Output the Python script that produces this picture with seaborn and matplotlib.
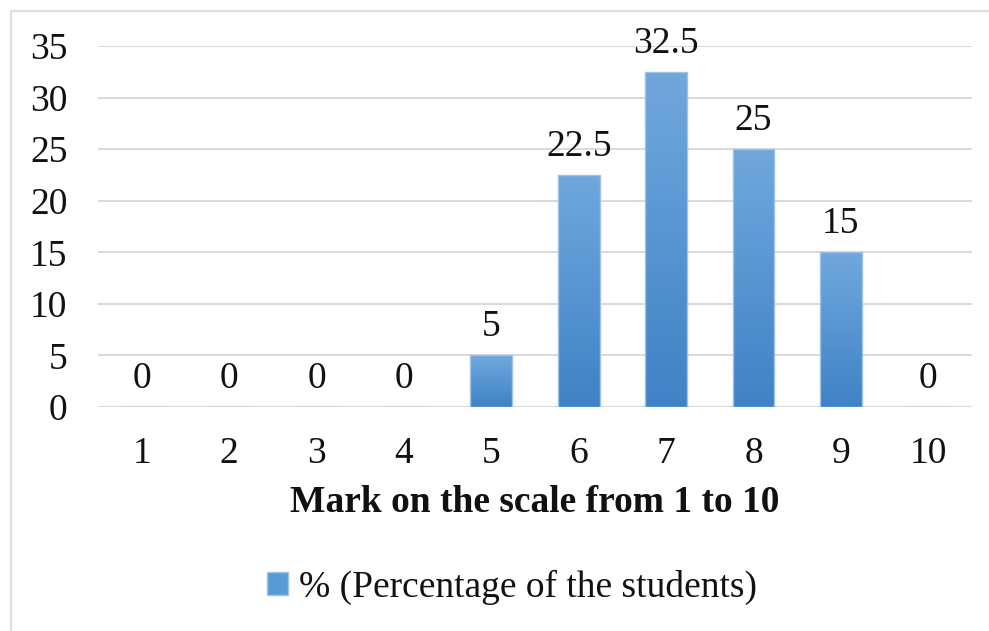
import numpy as np
import pandas as pd
import matplotlib
matplotlib.use("Agg")
import matplotlib.pyplot as plt
from matplotlib.colors import LinearSegmentedColormap
from matplotlib.patches import Patch, Rectangle
import seaborn as sns

# Data
marks = ["1", "2", "3", "4", "5", "6", "7", "8", "9", "10"]
percent = [0, 0, 0, 0, 5, 22.5, 32.5, 25, 15, 0]
value_labels = ["0", "0", "0", "0", "5", "22.5", "32.5", "25", "15", "0"]
series_name = "% (Percentage of the students)"

sns.set_theme(style="white")
plt.rcParams["font.family"] = ["Liberation Serif", "DejaVu Serif"]

df = pd.DataFrame({"mark": marks, "percent": percent})
FS = 27

fig = plt.figure(figsize=(9.89, 6.31), dpi=100)
ax = fig.add_axes([98 / 989, 1 - 407 / 631, (972 - 98) / 989, (407 - 46) / 631])

sns.barplot(data=df, x="mark", y="percent", ax=ax, width=0.48,
            color="#5B9BD5", edgecolor="#9DC3E6", linewidth=1, zorder=3)

# Vertical gradient fill on each bar
grad_cmap = LinearSegmentedColormap.from_list("bar", ["#3F82C6", "#70A8DD"])
grad = np.linspace(0, 1, 256).reshape(-1, 1)
for bar in ax.patches:
    h = bar.get_height()
    if h <= 0:
        continue
    x0 = bar.get_x()
    w = bar.get_width()
    im = ax.imshow(grad, extent=[x0, x0 + w, 0, h], origin="lower",
                   aspect="auto", cmap=grad_cmap, zorder=3.5)
    im.set_clip_path(bar)
    bar.set_facecolor("none")
    bar.set_zorder(4)

ax.bar_label(ax.containers[0], labels=value_labels, padding=8, fontsize=FS,
             color="#111111", zorder=5)

ax.set_xlim(-0.5, len(marks) - 0.5)
ax.set_ylim(0, 35)
ax.set_yticks(range(0, 36, 5))
ax.yaxis.grid(True, color="#D9D9D9", linewidth=1.4, zorder=0)
ax.set_axisbelow(True)
for side in ["top", "right", "left", "bottom"]:
    ax.spines[side].set_visible(False)
ax.axhline(0, color="#D9D9D9", linewidth=1.6, zorder=1)

ax.tick_params(axis="both", length=0, labelsize=FS, colors="#111111")
ax.tick_params(axis="x", pad=21)
ax.tick_params(axis="y", pad=22)
ax.set_xlabel("")
ax.set_ylabel("")

fig.text(535 / 989, 1 - 503 / 631, "Mark on the scale from 1 to 10",
         ha="center", va="center", fontsize=FS, fontweight="bold",
         color="#111111")

handle = Patch(facecolor="#5B9BD5", edgecolor="#9DC3E6")
fig.legend([handle], [series_name], loc="center", frameon=False,
           bbox_to_anchor=(512 / 989, 1 - 587 / 631), fontsize=FS,
           handlelength=0.55, handleheight=0.55, handletextpad=0.3,
           labelcolor="#111111")

# outer chart border (cut off at right and bottom in the reference)
fig.add_artist(Rectangle((11 / 989, -0.1), 1.2, (631 - 11) / 631 + 0.1,
                         transform=fig.transFigure, fill=False,
                         edgecolor="#D9DEE8", linewidth=1.6))

fig.savefig("out.png", dpi=100)
